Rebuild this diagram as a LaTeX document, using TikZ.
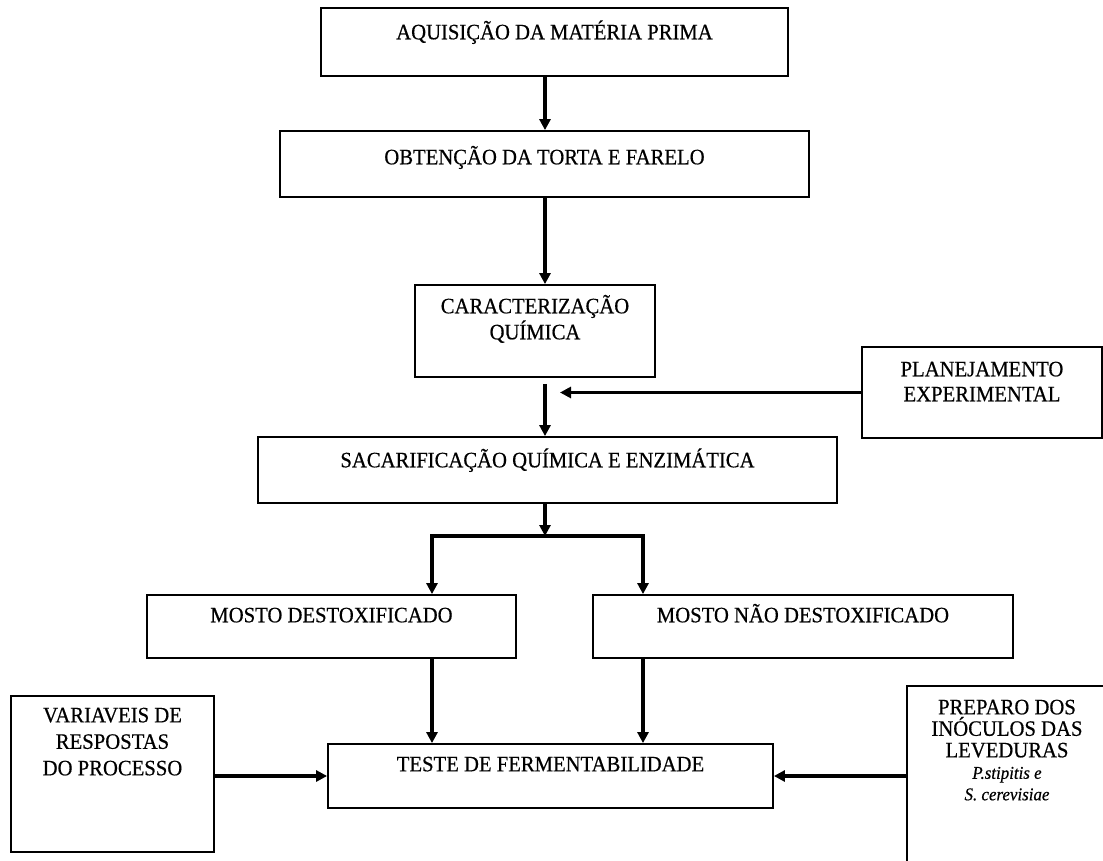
\documentclass[tikz,border=0pt]{standalone}
\usepackage{fontspec}
\setmainfont{Liberation Serif}
\newfontfamily\boxfont{Liberation Serif}[FakeStretch=0.94, FakeBold=0.5]
\usetikzlibrary{arrows.meta}
\begin{document}
\begin{tikzpicture}[x=1pt,y=-1pt,
  box/.style={draw, line width=1.8pt, inner sep=0pt},
  lbl/.style={anchor=north, inner sep=0pt, align=center, font=\boxfont\fontsize{22}{26}\selectfont},
  arr/.style={line width=3.2pt, -{Triangle[length=11pt,width=11pt]}},
  ln/.style={line width=3.2pt}]
\useasboundingbox (0,0) rectangle (1103,861);
\fill[white] (0,0) rectangle (1103,861);
% boxes
\node[box, minimum width=467pt, minimum height=68pt] (b1) at (554.5,42) {};
\node[box, minimum width=529pt, minimum height=66pt] (b2) at (544.5,164) {};
\node[box, minimum width=240pt, minimum height=92pt] (b3) at (535,331) {};
\node[box, minimum width=240pt, minimum height=91pt] (plan) at (982,392.5) {};
\node[box, minimum width=579pt, minimum height=66pt] (b4) at (547.5,470) {};
\node[box, minimum width=369pt, minimum height=63pt] (m1) at (331.5,626.5) {};
\node[box, minimum width=420pt, minimum height=63pt] (m2) at (803,626.5) {};
\node[box, minimum width=445pt, minimum height=64pt] (tst) at (550.5,776) {};
\node[box, minimum width=203pt, minimum height=156pt] (var) at (112.5,774) {};
\node[box, minimum width=208pt, minimum height=184pt] (prep) at (1011,778) {};
% labels
\node[lbl] (b1t) at ([yshift=-12pt]b1.north) {\rule{0pt}{20pt}AQUISIÇÃO DA MATÉRIA PRIMA};
\node[lbl] (b2t) at ([yshift=-14pt]b2.north) {\rule{0pt}{20pt}OBTENÇÃO DA TORTA E FARELO};
\node[lbl] (b3t) at ([yshift=-9pt]b3.north) {\rule{0pt}{20pt}CARACTERIZAÇÃO\\QUÍMICA};
\node[lbl, font=\boxfont\fontsize{22}{25}\selectfont] (plant) at ([yshift=-10pt]plan.north) {\rule{0pt}{20pt}PLANEJAMENTO\\EXPERIMENTAL};
\node[lbl] (b4t) at ([yshift=-11pt]b4.north) {\rule{0pt}{20pt}SACARIFICAÇÃO QUÍMICA E ENZIMÁTICA};
\node[lbl] (m1t) at ([yshift=-8pt]m1.north) {\rule{0pt}{20pt}MOSTO DESTOXIFICADO};
\node[lbl] (m2t) at ([yshift=-8pt]m2.north) {\rule{0pt}{20pt}MOSTO NÃO DESTOXIFICADO};
\node[lbl] (tstt) at ([yshift=-8pt]tst.north) {\rule{0pt}{20pt}TESTE DE FERMENTABILIDADE};
\node[lbl, font=\boxfont\fontsize{22}{26.5}\selectfont] (vart) at ([yshift=-7pt]var.north) {\rule{0pt}{20pt}VARIAVEIS DE\\RESPOSTAS\\DO PROCESSO};
\node[lbl, font=\boxfont\fontsize{22}{21.5}\selectfont, xshift=-4pt] (prept) at ([yshift=-9pt]prep.north) {\rule{0pt}{20pt}PREPARO DOS\\INÓCULOS DAS\\LEVEDURAS\\{\fontsize{18}{21}\selectfont\itshape P.stipitis e}\\{\fontsize{18}{21}\selectfont\itshape S. cerevisiae}};
% connectors
\coordinate (cx) at (545,0);
\draw[arr] (b1.south -| cx) -- (b2.north -| cx);
\draw[arr] (b2.south -| cx) -- (b3.north -| cx);
\draw[arr, shorten <=6pt] (b3.south -| cx) -- (b4.north -| cx);
\coordinate (j) at (560,392.5);
\draw[arr] (plan.west) -- (j);
\coordinate (fk) at (545,536);
\coordinate (fl) at (432,536);
\coordinate (fr) at (643,536);
\draw[arr] (b4.south -| fk) -- (fk);
\draw[ln] (fl) -- (fr);
\draw[arr] ([yshift=1.6pt]fl) -- (m1.north -| fl);
\draw[arr] ([yshift=1.6pt]fr) -- (m2.north -| fr);
\draw[arr] (m1.south -| fl) -- (tst.north -| fl);
\draw[arr] (m2.south -| fr) -- (tst.north -| fr);
\draw[arr] (var.east |- tst.west) -- (tst.west);
\draw[arr] (prep.west |- tst.east) -- (tst.east);
\end{tikzpicture}
\end{document}
